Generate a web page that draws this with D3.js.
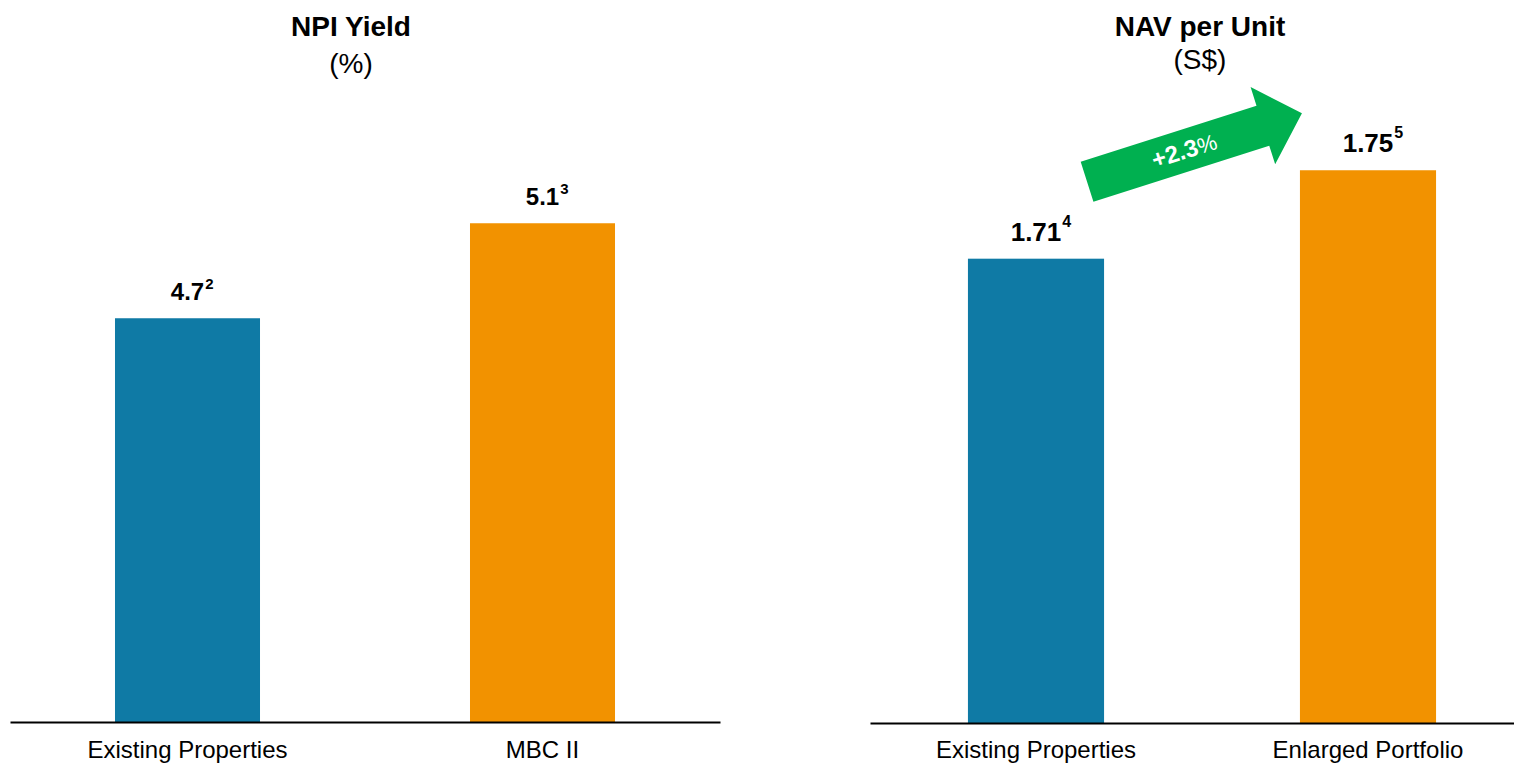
<!DOCTYPE html>
<html>
<head>
<meta charset="utf-8">
<script src="https://cdn.jsdelivr.net/npm/d3@7"></script>
<style>
  html, body { margin: 0; padding: 0; background: #fff; }
  svg { display: block; font-family: "Liberation Sans", Arial, sans-serif; }
</style>
</head>
<body>
<svg id="chart" width="1514" height="764"></svg>
<script>
// NPI yield panel
const npiCategories = ["Existing Properties", "MBC II"];
const npiValues = [4.7, 5.1];
const npiNotes = ["2", "3"];

// NAV per unit panel
const navCategories = ["Existing Properties", "Enlarged Portfolio"];
const navValues = [1.71, 1.75];
const navNotes = ["4", "5"];
const navChangeLabel = ["+2.3", "%"];

const BLUE = "#0F7AA5";
const ORANGE = "#F29200";
const GREEN = "#00B050";
const barColors = [BLUE, ORANGE];

const svg = d3.select("#chart");

function panel(opts) {
  const g = svg.append("g");
  const x = d3.scaleBand()
    .domain(opts.categories)
    .range(opts.xRange)
    .paddingInner(opts.padInner)
    .paddingOuter(opts.padInner / 2);
  const y = d3.scaleLinear().domain(opts.yDomain).range(opts.yRange);
  const base = y(opts.yDomain[0]);

  // bars
  g.selectAll("rect.bar")
    .data(opts.values)
    .join("rect")
    .attr("class", "bar")
    .attr("x", (d, i) => x(opts.categories[i]))
    .attr("width", x.bandwidth())
    .attr("y", d => y(d))
    .attr("height", d => base - y(d))
    .attr("fill", (d, i) => barColors[i]);

  // baseline axis
  const axis = g.append("g")
    .attr("transform", `translate(0,${base})`)
    .call(d3.axisBottom(x).tickSize(0).tickPadding(opts.tickPad));
  axis.select(".domain").attr("stroke", "#000").attr("stroke-width", 2.2);
  axis.selectAll(".tick text")
    .attr("font-size", 24)
    .attr("fill", "#000")
    .attr("font-family", "Liberation Sans, Arial, sans-serif");

  // value labels with footnote markers
  opts.values.forEach((v, i) => {
    const cx = x(opts.categories[i]) + x.bandwidth() / 2;
    const ty = y(v) - 18;
    const t = g.append("text")
      .attr("x", cx).attr("y", ty)
      .attr("text-anchor", "middle")
      .attr("font-size", opts.labelSize)
      .attr("font-weight", "bold")
      .attr("fill", "#000")
      .text(opts.fmt(v));
    const w = t.node().getComputedTextLength();
    g.append("text")
      .attr("x", cx + w / 2 + 1)
      .attr("y", ty - opts.supShift)
      .attr("font-size", opts.supSize)
      .attr("font-weight", "bold")
      .attr("fill", "#000")
      .text(opts.notes[i]);
  });

  // title block
  g.append("text")
    .attr("x", opts.titleX).attr("y", 36)
    .attr("text-anchor", "middle")
    .attr("font-size", 28).attr("font-weight", "bold")
    .attr("fill", "#000")
    .text(opts.title);
  g.append("text")
    .attr("x", opts.titleX).attr("y", opts.subY)
    .attr("text-anchor", "middle")
    .attr("font-size", 28)
    .attr("fill", "#000")
    .text(opts.subtitle);

  return { x, y, g };
}

panel({
  categories: npiCategories, values: npiValues, notes: npiNotes,
  xRange: [10, 720], padInner: 0.5915,
  yDomain: [3, 6], yRange: [722, 9.5],
  labelSize: 24, supSize: 15, supShift: 11, tickPad: 19,
  fmt: d3.format(".1f"),
  title: "NPI Yield", subtitle: "(%)", titleX: 351, subY: 73
});

const nav = panel({
  categories: navCategories, values: navValues, notes: navNotes,
  xRange: [870, 1534], padInner: 0.59,
  yDomain: [1.5, 1.8], yRange: [723, 723 - 0.3 * 2211],
  labelSize: 26, supSize: 16, supShift: 14, tickPad: 18,
  fmt: d3.format(".2f"),
  title: "NAV per Unit", subtitle: "(S$)", titleX: 1200, subY: 69
});

// growth arrow between the two NAV bars
{
  const { x, y, g } = nav;
  const x0 = x(navCategories[0]) + x.bandwidth() - 17;
  const y0 = y(navValues[0]) - 77;
  const x1 = x(navCategories[1]) + 2;
  const y1 = y(navValues[1]) - 57;
  const len = Math.hypot(x1 - x0, y1 - y0);
  const ang = Math.atan2(y1 - y0, x1 - x0) * 180 / Math.PI;
  const shaftW = 42, headW = 81, headL = 41;
  const s = len - headL;
  const pts = [
    [0, -shaftW / 2], [s, -shaftW / 2], [s, -headW / 2], [len, 0],
    [s, headW / 2], [s, shaftW / 2], [0, shaftW / 2]
  ];
  const ag = g.append("g").attr("transform", `translate(${x0},${y0}) rotate(${ang})`);
  ag.append("path")
    .attr("d", d3.line()(pts) + "Z")
    .attr("fill", GREEN);
  const lbl = ag.append("text")
    .attr("x", 102).attr("y", 8)
    .attr("text-anchor", "middle")
    .attr("fill", "#fff");
  lbl.append("tspan").attr("font-size", 24).attr("font-weight", "bold").text(navChangeLabel[0]);
  lbl.append("tspan").attr("font-size", 22).text(navChangeLabel[1]);
}
</script>
</body>
</html>
